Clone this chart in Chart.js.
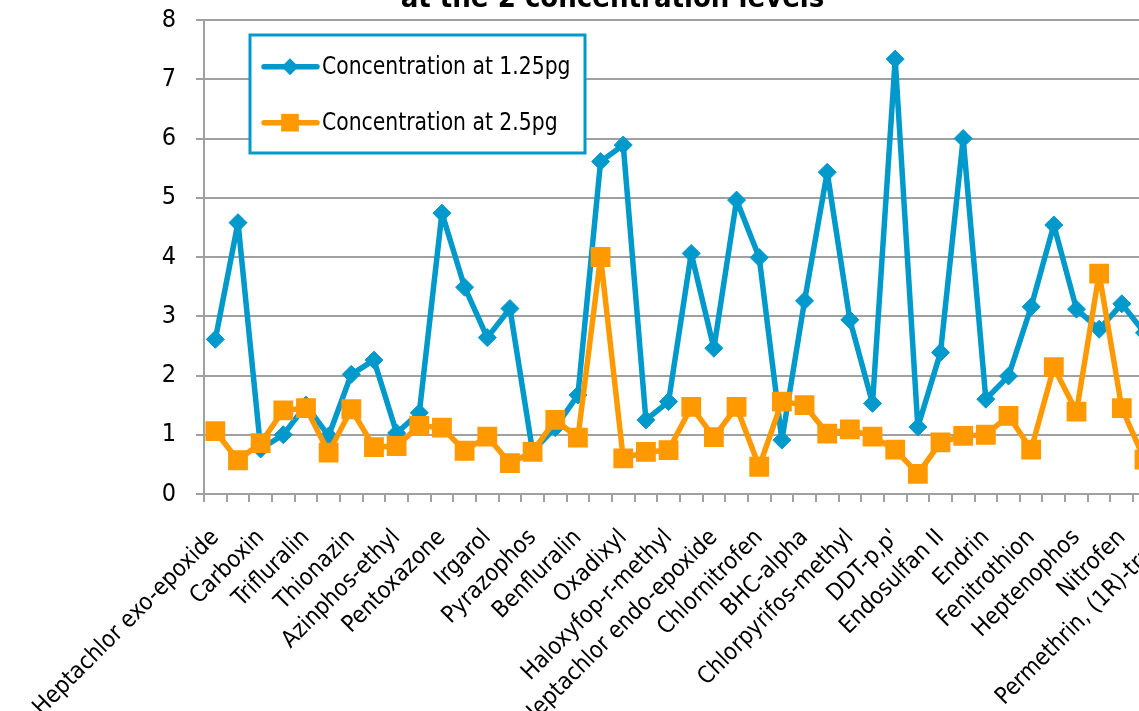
<!DOCTYPE html>
<html><head><meta charset="utf-8">
<script src="https://cdn.jsdelivr.net/npm/chart.js@4.4.1/dist/chart.umd.min.js"></script>
<style>
html,body{margin:0;padding:0;overflow:hidden;background:#fff;width:1139px;height:711px;}
#wrap{position:absolute;left:0;top:-20px;width:1232px;height:731px;}
canvas{display:block;}
</style></head><body>
<div id="wrap"><canvas id="c" width="1232" height="731" style="width:1232px;height:731px"></canvas></div>
<script>
const titleText = 'at the 2 concentration levels';
const compounds = [
  'Heptachlor exo-epoxide','', 'Carboxin','', 'Trifluralin','', 'Thionazin','',
  'Azinphos-ethyl','', 'Pentoxazone','', 'Irgarol','', 'Pyrazophos','',
  'Benfluralin','', 'Oxadixyl','', 'Haloxyfop-r-methyl','', 'Heptachlor endo-epoxide','',
  'Chlornitrofen','', 'BHC-alpha','', 'Chlorpyrifos-methyl','', "DDT-p,p'",'',
  'Endosulfan II','', 'Endrin','', 'Fenitrothion','', 'Heptenophos','',
  'Nitrofen','', 'Permethrin, (1R)-trans',''
];
const seriesNames = ['Concentration at 1.25pg', 'Concentration at 2.5pg'];
const conc125 = [2.61, 4.58, 0.76, 1.0, 1.5, 0.98, 2.02, 2.26, 1.03, 1.37,
  4.74, 3.49, 2.64, 3.13, 0.72, 1.12, 1.67, 5.61, 5.89, 1.25,
  1.56, 4.06, 2.46, 4.96, 3.99, 0.91, 3.26, 5.43, 2.94, 1.53,
  7.34, 1.13, 2.39, 6.0, 1.6, 1.99, 3.16, 4.54, 3.12, 2.78,
  3.21, 2.72, null, null];
const conc25 = [1.06, 0.57, 0.86, 1.41, 1.45, 0.70, 1.43, 0.79, 0.81, 1.15,
  1.12, 0.73, 0.97, 0.52, 0.71, 1.25, 0.95, 4.0, 0.60, 0.71,
  0.74, 1.47, 0.96, 1.47, 0.46, 1.56, 1.50, 1.02, 1.09, 0.97,
  0.75, 0.34, 0.87, 0.98, 1.0, 1.32, 0.75, 2.14, 1.39, 3.72,
  1.45, 0.58, null, null];
const yMin = 0, yMax = 8, yStep = 1;

const FONT = '"Liberation Sans Narrow", "DejaVu Sans Condensed", "Arial Narrow", sans-serif';
const BLUE = '#0099cc', ORANGE = '#ff9900', GRID = '#a0a0a0';

const legendBox = {
  id: 'legendBox',
  afterDraw(chart) {
    const {ctx, chartArea} = chart;
    const x0 = chartArea.left + 46, y0 = chartArea.top + 15, w = 335, h = 118;
    ctx.save();
    ctx.fillStyle = '#fff';
    ctx.fillRect(x0, y0, w, h);
    ctx.lineWidth = 3; ctx.strokeStyle = BLUE;
    ctx.strokeRect(x0, y0, w, h);
    chart.data.datasets.forEach((ds, i) => {
      const yy = y0 + 31.7 + i * 56;
      ctx.strokeStyle = ds.borderColor; ctx.lineWidth = 5.5; ctx.lineCap = 'round';
      ctx.beginPath(); ctx.moveTo(x0 + 14, yy); ctx.lineTo(x0 + 67, yy); ctx.stroke();
      ctx.fillStyle = ds.pointBackgroundColor;
      Chart.helpers.drawPoint(ctx, {pointStyle: ds.pointStyle, radius: ds.pointStyle === 'rect' ? 12.5 : 8.5, borderWidth: 0, rotation: 0}, x0 + 40, yy);
      ctx.save();
      ctx.fillStyle = '#000';
      ctx.font = '25px ' + FONT;
      ctx.textBaseline = 'middle'; ctx.textAlign = 'left';
      ctx.translate(x0 + 72, yy + 1);
      ctx.scale(0.905, 1);
      ctx.fillText(ds.label, 0, 0);
      ctx.restore();
    });
    ctx.restore();
  }
};

new Chart(document.getElementById('c'), {
  type: 'line',
  data: {
    labels: compounds,
    datasets: [
      {label: seriesNames[0], data: conc125, borderColor: BLUE, backgroundColor: BLUE,
       pointBackgroundColor: BLUE, pointBorderColor: BLUE, pointStyle: 'rectRot',
       pointRadius: 9, pointBorderWidth: 1, borderWidth: 5.5, tension: 0, order: 1, spanGaps: false,
       borderJoinStyle: 'round', borderCapStyle: 'round'},
      {label: seriesNames[1], data: conc25, borderColor: ORANGE, backgroundColor: ORANGE,
       pointBackgroundColor: ORANGE, pointBorderColor: ORANGE, pointStyle: 'rect',
       pointRadius: 14, pointBorderWidth: 0, borderWidth: 5.5, tension: 0, order: 0, spanGaps: false,
       borderJoinStyle: 'round', borderCapStyle: 'round'}
    ]
  },
  options: {
    responsive: false,
    animation: false,
    devicePixelRatio: 1,
    layout: {padding: {left: 16, right: 23, top: 0, bottom: 0}},
    plugins: {
      legend: {display: false},
      tooltip: {enabled: false},
      title: {display: true, text: titleText, color: '#000',
        font: {family: FONT, size: 29, weight: 'bold'}, padding: {top: 2, bottom: 3.2}}
    },
    scales: {
      x: {
        type: 'category', offset: true,
        grid: {display: true, drawOnChartArea: false, drawTicks: true, tickLength: 8, color: GRID, lineWidth: 2, offset: true},
        border: {display: true, color: GRID, width: 2},
        ticks: {autoSkip: false, minRotation: 45, maxRotation: 45, color: '#000', padding: 22,
          font: {family: FONT, size: 23.5}},
        afterFit(s) { s.height = 217; }
      },
      y: {
        min: yMin, max: yMax,
        grid: {display: true, drawOnChartArea: true, drawTicks: true, tickLength: 8, color: GRID, lineWidth: 2},
        border: {display: true, color: GRID, width: 2},
        ticks: {stepSize: yStep, color: '#000', padding: 20, font: {family: FONT, size: 25}},
        afterFit(s) { s.width = 188; }
      }
    }
  },
  plugins: [legendBox]
});
</script>
</body></html>
